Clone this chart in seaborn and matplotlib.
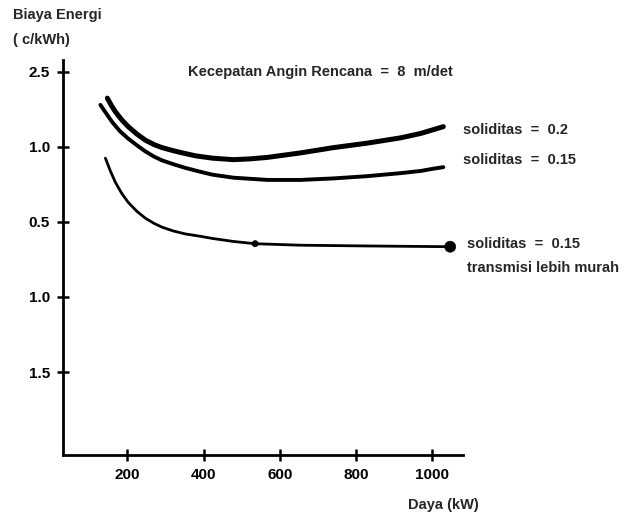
import matplotlib
matplotlib.use("Agg")
import matplotlib.pyplot as plt
import seaborn as sns

# Power (kW) and energy cost position for each solidity curve
daya_s020 = [147, 158, 168, 185, 202, 225, 247, 270, 291, 320, 344, 380, 423, 478,
             520, 567, 654, 740, 829, 916, 970, 1003, 1029]
biaya_s020 = [4.65, 4.55, 4.47, 4.36, 4.27, 4.17, 4.09, 4.03, 3.99, 3.95, 3.92, 3.88, 3.85, 3.83,
              3.84, 3.86, 3.92, 3.99, 4.05, 4.12, 4.18, 4.23, 4.27]

daya_s015 = [129, 145, 160, 180, 202, 225, 247, 270, 291, 320, 352, 390, 423, 478,
             567, 654, 740, 829, 916, 970, 1003, 1029]
biaya_s015 = [4.56, 4.44, 4.33, 4.21, 4.11, 4.02, 3.94, 3.87, 3.82, 3.77, 3.72, 3.67, 3.63, 3.59,
              3.56, 3.56, 3.58, 3.61, 3.65, 3.68, 3.71, 3.73]

daya_murah = [142, 155, 168, 185, 202, 225, 247, 270, 291, 320, 352, 390, 423, 478,
              535, 654, 829, 1047]
biaya_murah = [3.85, 3.68, 3.53, 3.38, 3.26, 3.14, 3.05, 2.98, 2.93, 2.88, 2.84, 2.81, 2.78, 2.74,
               2.71, 2.69, 2.68, 2.67]

# Marked points on the cheaper-transmission curve
titik_daya = [535, 1047]
titik_biaya = [2.71, 2.67]
titik_ukuran = [4.5, 8]

x_ticks = [200, 400, 600, 800, 1000]
y_ticks = [5, 4, 3, 2, 1]
y_labels = ["2.5", "1.0", "0.5", "1.0", "1.5"]

sns.set_style("white")
plt.rcParams["font.family"] = ["Liberation Sans", "DejaVu Sans"]
plt.rcParams["font.weight"] = "bold"
plt.rcParams["lines.solid_joinstyle"] = "round"
plt.rcParams["lines.solid_capstyle"] = "round"

fig = plt.figure(figsize=(6.31, 5.16), dpi=100)
ax = fig.add_axes([0.100, 0.118, 0.634, 0.766])

sns.lineplot(x=daya_s020, y=biaya_s020, ax=ax, color="black", linewidth=3.6, sort=False)
sns.lineplot(x=daya_s015, y=biaya_s015, ax=ax, color="black", linewidth=2.8, sort=False)
sns.lineplot(x=daya_murah, y=biaya_murah, ax=ax, color="black", linewidth=2.0, sort=False)
sns.scatterplot(x=titik_daya, y=titik_biaya, ax=ax, s=[v ** 2 for v in titik_ukuran],
                color="black", edgecolor="black", zorder=5, legend=False)

ax.set_xlim(31, 1081)
ax.set_ylim(-0.107, 5.16)
ax.set_xticks(x_ticks)
ax.set_xticklabels([str(v) for v in x_ticks])
ax.set_yticks(y_ticks)
ax.set_yticklabels(y_labels)
ax.tick_params(axis="both", bottom=True, left=True, direction="inout", length=9, width=1.8,
               labelsize=11, colors="black", pad=5)
for lab in ax.get_xticklabels() + ax.get_yticklabels():
    lab.set_fontweight("bold")

for side in ["top", "right"]:
    ax.spines[side].set_visible(False)
for side in ["left", "bottom"]:
    ax.spines[side].set_linewidth(2)
    ax.spines[side].set_color("black")

ax.set_xlabel("")
ax.set_ylabel("")

fs = 10.5
fig.text(13 / 631, 1 - 15 / 516, "Biaya Energi", fontsize=fs, fontweight="bold", va="center")
fig.text(13 / 631, 1 - 40 / 516, "( c/kWh)", fontsize=fs, fontweight="bold", va="center")
fig.text(188 / 631, 1 - 72 / 516, "Kecepatan Angin Rencana  =  8  m/det", fontsize=fs,
         fontweight="bold", va="center")
fig.text(463 / 631, 1 - 130 / 516, "soliditas  =  0.2", fontsize=fs, fontweight="bold", va="center")
fig.text(463 / 631, 1 - 160 / 516, "soliditas  =  0.15", fontsize=fs, fontweight="bold", va="center")
fig.text(467 / 631, 1 - 244 / 516, "soliditas  =  0.15", fontsize=fs, fontweight="bold", va="center")
fig.text(467 / 631, 1 - 268 / 516, "transmisi lebih murah", fontsize=fs, fontweight="bold", va="center")
fig.text(408 / 631, 1 - 505 / 516, "Daya (kW)", fontsize=fs, fontweight="bold", va="center")

fig.savefig("out.png", dpi=100)
